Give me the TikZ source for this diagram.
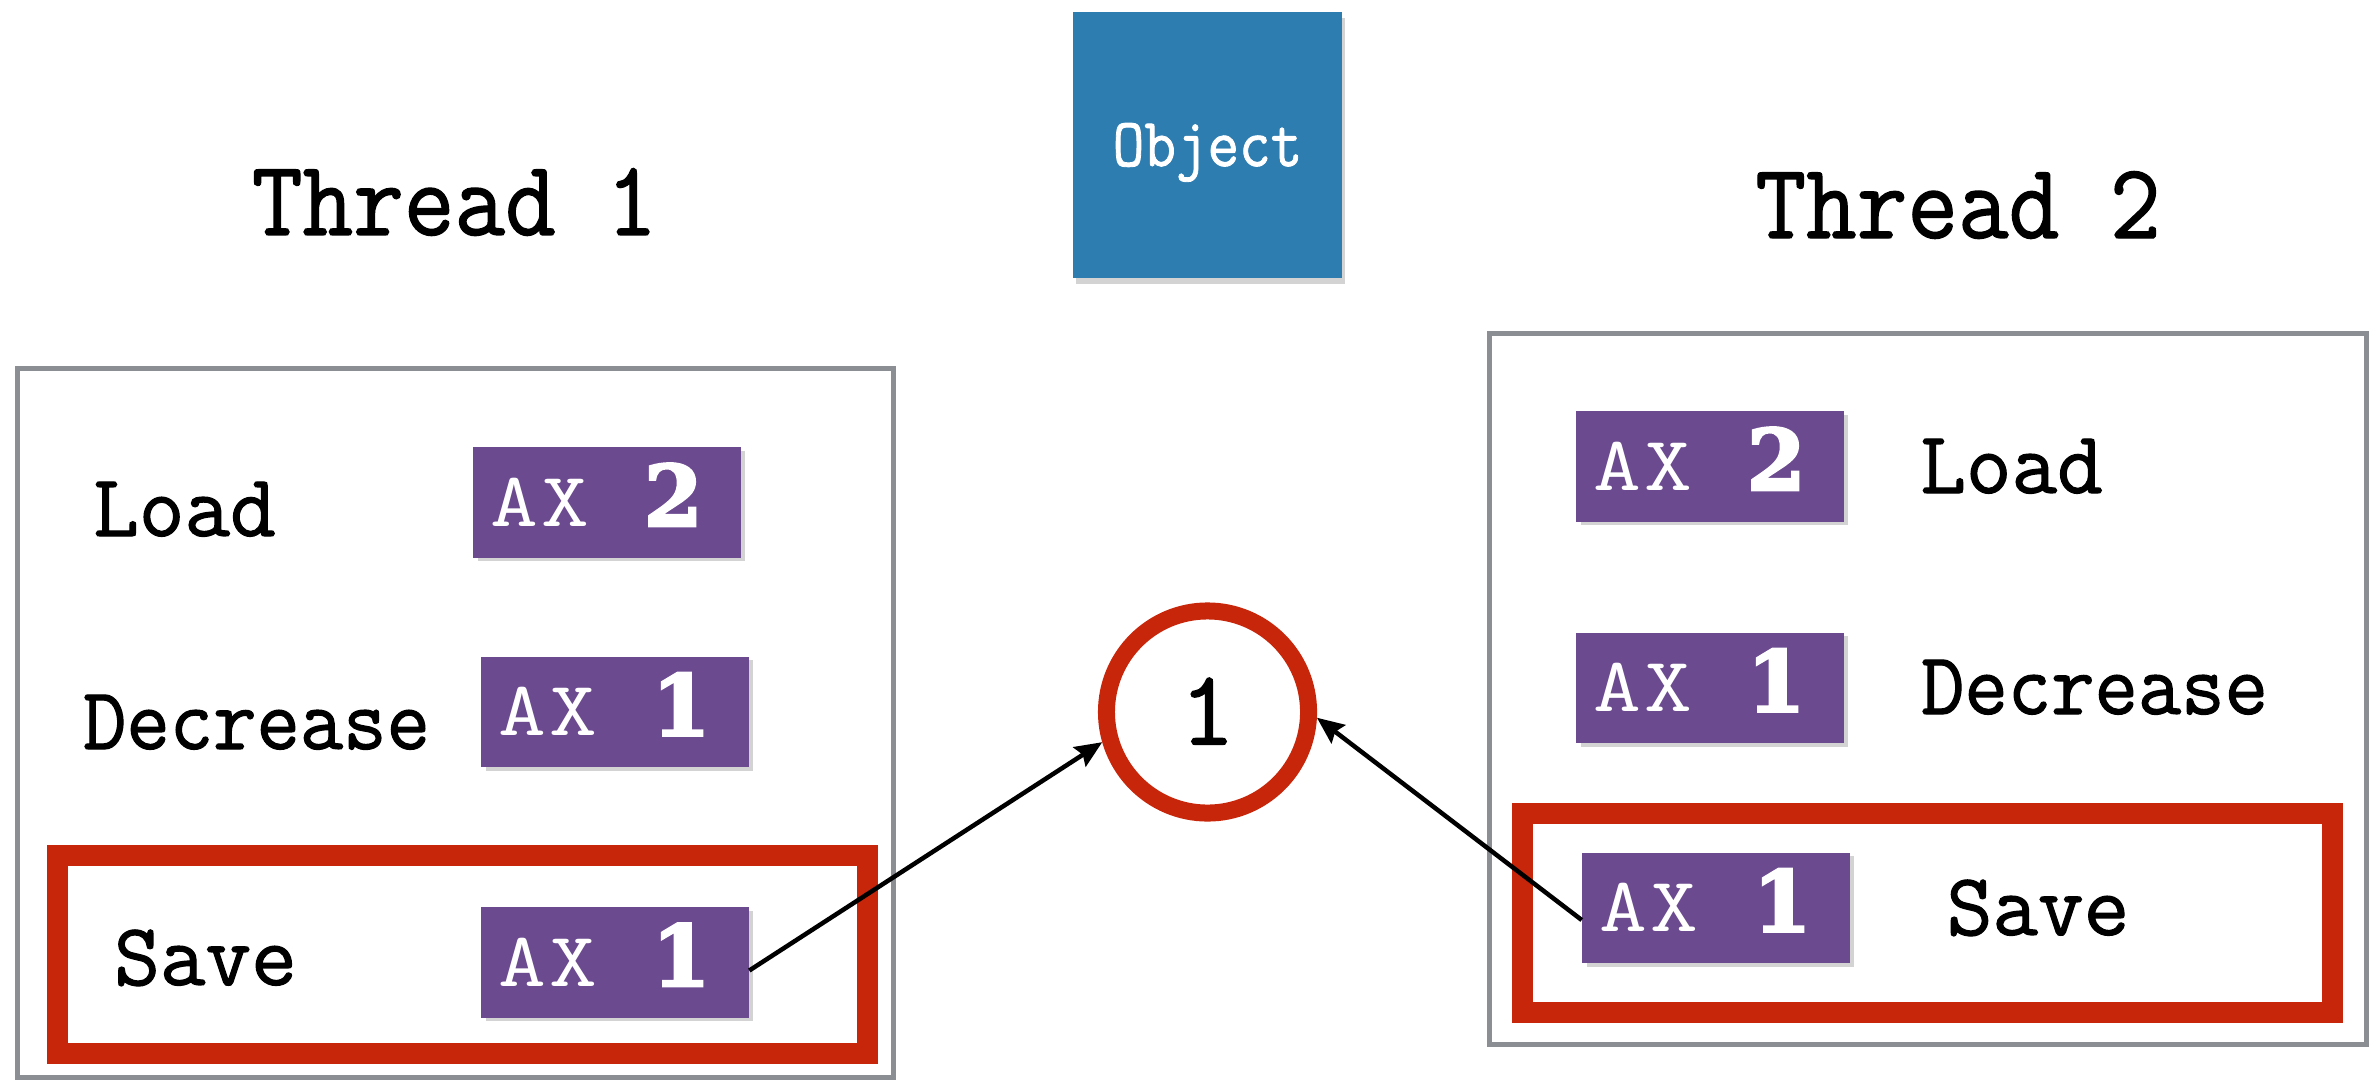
\documentclass[tikz,border=0pt]{standalone}
\usepackage{fontspec}
\usepackage{graphicx}
\usetikzlibrary{arrows.meta,shadows}

% typewriter face with a slightly heavier stroke
\newfontfamily\twfont{Latin Modern Mono}[FakeBold=1.3]
\newfontfamily\digfont{DejaVu Serif}[BoldFeatures={FakeBold=3}]

\definecolor{objblue}{RGB}{46,125,177}
\definecolor{regpurple}{RGB}{107,74,143}
\definecolor{hotred}{RGB}{200,38,10}
\definecolor{framegray}{RGB}{139,142,147}

% horizontally condensed / widened text
\newcommand\wide[2]{\scalebox{#1}[1]{#2}}
% contents of a register chip: "AX" on the left, the value on the right
\newcommand\regcontent[1]{\makebox[2.67cm][l]{\hspace{0.17cm}%
  {\fontsize{22}{22}\selectfont\ttfamily\wide{1.2}{A\kern0.03cm X}}\hfill
  {\digfont\bfseries\fontsize{24}{24}\selectfont #1}\hspace{0.38cm}}}

\tikzset{
  frame/.style={draw=framegray, line width=0.05cm, inner sep=0},
  hot/.style={draw=hotred, line width=0.21cm, inner sep=0},
  reg/.style={fill=regpurple, inner sep=0, minimum width=2.67cm,
    minimum height=1.10cm, text=white, text height=0.47cm, text depth=0pt,
    drop shadow={shadow xshift=0.045cm, shadow yshift=-0.035cm, opacity=0.35}},
  lbl/.style={inner sep=0, anchor=base,
    font=\fontsize{25.2}{30}\selectfont\twfont},
  title/.style={inner sep=0, anchor=base,
    font=\fontsize{30.4}{36}\selectfont\twfont},
  conn/.style={line width=0.045cm,
    -{Stealth[length=0.27cm, width=0.23cm, inset=0.04cm]}},
}

\begin{document}
\begin{tikzpicture}[x=0.01cm, y=-0.01cm]
\useasboundingbox (0,0) rectangle (2380,1079);

% shared object
\node[fill=objblue, minimum width=2.69cm, minimum height=2.66cm, inner sep=0,
      text=white, text height=0.42cm, text depth=0pt,
      font=\fontsize{19.6}{24}\selectfont\twfont,
      drop shadow={shadow xshift=0.03cm, shadow yshift=-0.06cm, opacity=0.35}]
      (obj) at (1207.5,145) {\wide{0.89}{Object}};

% thread titles
\node[title] (t1) at (454.5,235) {\wide{0.92}{Thread 1}};
\node[title] (t2) at (1958,238) {\wide{0.92}{Thread 2}};

% thread frames
\node[frame, minimum width=8.75cm, minimum height=7.085cm] (f1) at (455.5,722.75) {};
\node[frame, minimum width=8.77cm, minimum height=7.11cm] (f2) at (1928,689) {};

% highlighted save steps
\node[hot, minimum width=8.10cm, minimum height=1.98cm] (h1) at (462.5,954.5) {};
\node[hot, minimum width=8.10cm, minimum height=1.99cm] (h2) at (1927.5,913) {};

% thread 1 steps
\node[lbl] (l1) at (184.5,536) {Load};
\node[lbl] (d1) at (256.5,749) {\wide{0.95}{Decrease}};
\node[lbl] (s1) at (205.5,985) {Save};
\node[reg] (rl1) at (607,502.5) {\regcontent{2}};
\node[reg] (rd1) at (615,712) {\regcontent{1}};
\node[reg] (rs1) at (615,962.5) {\regcontent{1}};

% thread 2 steps
\node[lbl] (l2) at (2011.5,493) {Load};
\node[lbl] (d2) at (2094.5,714) {\wide{0.95}{Decrease}};
\node[lbl] (s2) at (2038,935) {Save};
\node[reg] (rl2) at (1710,466.5) {\regcontent{2}};
\node[reg] (rd2) at (1710,688) {\regcontent{1}};
\node[reg] (rs2) at (1716,908) {\regcontent{1}};

% stored value
\node[circle, draw=hotred, line width=0.17cm, minimum size=2.02cm, inner sep=0,
      text height=0.65cm, text depth=0pt,
      font=\fontsize{30.4}{36}\selectfont\twfont]
      (val) at (1207.5,712) {1};

% writes from both threads
\draw[conn] ([yshift=-0.08cm]rs1.east) -- (val.196);
\draw[conn] ([yshift=-0.12cm]rs2.west) -- (val.-3);
\end{tikzpicture}
\end{document}
